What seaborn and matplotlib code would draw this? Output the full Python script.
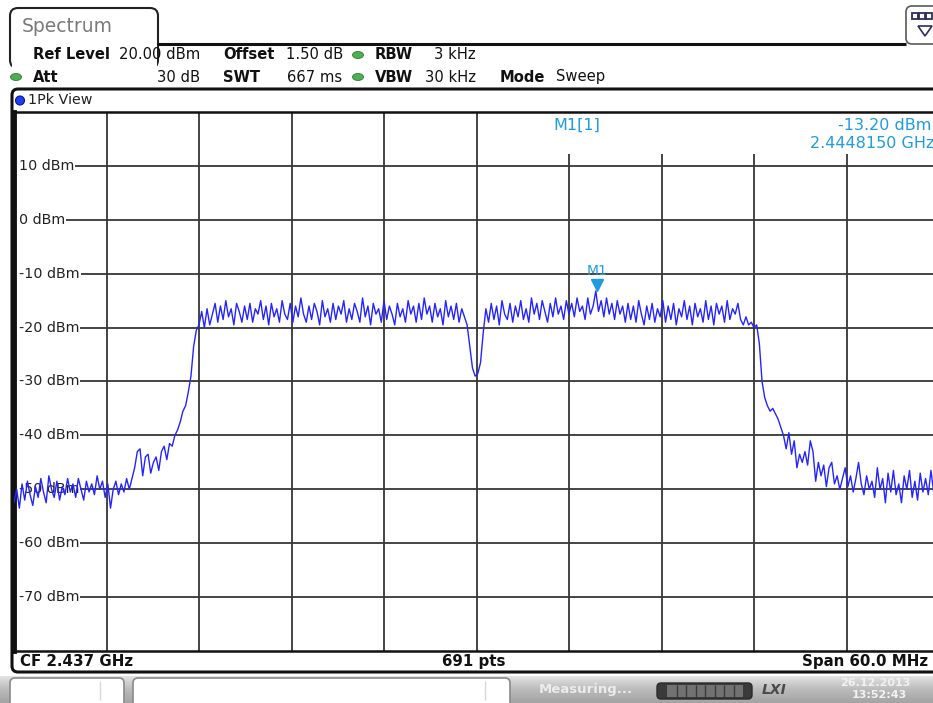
import numpy as np
import matplotlib
matplotlib.use("Agg")
import matplotlib.pyplot as plt
import matplotlib.transforms as mtransforms
import seaborn as sns
from matplotlib.patches import FancyBboxPatch, Rectangle, Ellipse, Circle, Polygon

# analyzer settings shown on screen
center_ghz = 2.437
span_mhz = 60.0
ref_level = 20.0
bottom_level = -80.0
sweep_pts = 691

# trace (dBm), every 2nd sweep point (346 samples over the span)
floor_left = [-52.5, -50.0, -53.5, -49.0, -52.0, -48.5, -51.0, -53.0, -49.5, -51.5,
              -48.0, -50.5, -52.5, -47.5, -50.0, -51.5, -48.5, -52.0, -49.5, -51.0,
              -48.0, -50.5, -49.0, -51.5, -48.0, -50.0, -52.0, -48.5, -50.5, -49.0,
              -51.0, -47.5, -50.0, -48.5, -51.5, -49.0, -53.5, -50.0, -48.5, -51.0,
              -49.0, -50.5, -48.0, -50.0]
skirt_left = [-48.0, -46.0, -43.0, -42.5, -47.5, -44.0, -43.5, -47.0, -45.0, -44.0,
              -46.5, -43.0, -42.0, -44.5, -41.5, -42.0, -40.0, -39.0, -37.5, -35.5,
              -34.5, -32.0, -29.0, -23.5, -20.5]
band_left = [-19.5, -17.0, -20.0, -16.5, -19.5, -17.5, -15.5, -19.0, -16.0, -18.5,
             -15.0, -18.0, -16.5, -19.5, -15.5, -17.0, -19.0, -16.0, -18.5, -15.5,
             -19.0, -16.5, -17.5, -15.0, -18.5, -16.0, -19.5, -15.5, -18.0, -16.5,
             -19.0, -15.0, -17.5, -18.5, -15.5, -19.0, -16.0, -18.0, -14.5, -17.5,
             -19.0, -16.0, -18.5, -15.5, -17.0, -19.5, -15.0, -18.0, -16.5, -19.0,
             -15.5, -18.5, -16.0, -17.5, -15.0, -19.0, -16.5, -18.5, -15.5, -17.0,
             -19.0, -14.5, -18.0, -16.0, -19.5, -15.5, -17.5, -16.5, -19.0, -15.0,
             -18.5, -16.0, -17.5, -19.5, -15.5, -18.0, -16.5, -19.0, -15.0, -17.5,
             -16.0, -19.0, -15.5, -18.5, -14.5, -17.5, -16.0, -19.0, -15.5, -18.0,
             -16.5, -19.5, -15.0, -18.0, -16.0, -18.5, -15.5, -19.0, -16.5, -18.0]
notch = [-19.5, -23.5, -27.5, -29.0, -28.5, -26.5, -21.0]
band_right = [-16.5, -19.0, -15.5, -18.5, -16.0, -19.5, -15.0, -17.5, -18.5, -15.5,
              -19.0, -16.0, -18.0, -15.0, -18.5, -16.5, -19.0, -14.5, -17.5, -15.5,
              -18.5, -15.0, -17.0, -19.0, -15.5, -18.0, -14.5, -17.5, -16.0, -18.5,
              -15.0, -17.5, -15.5, -18.0, -14.5, -17.0, -16.0, -18.5, -14.5, -17.5,
              -16.0, -13.2, -17.0, -15.0, -18.0, -14.5, -17.5, -15.5, -18.5, -15.0,
              -17.5, -16.0, -19.0, -15.5, -18.5, -16.0, -19.0, -15.0, -17.5, -19.5,
              -16.0, -18.5, -15.5, -19.0, -16.5, -18.0, -15.0, -19.0, -16.0, -18.5,
              -15.5, -19.5, -16.5, -18.0, -15.0, -18.5, -16.0, -19.5, -15.5, -18.0,
              -16.5, -19.0, -15.0, -18.5, -16.0, -19.5, -15.5, -17.5, -16.0, -19.0,
              -15.0, -18.5, -16.5, -17.5, -15.5, -18.5, -19.5, -18.0, -19.5]
skirt_right = [-19.0, -20.0, -19.5, -23.0, -30.0, -33.0, -34.5, -35.5, -35.0, -36.0,
               -37.0, -38.5, -40.0, -42.5, -39.5, -43.5, -41.0, -46.0, -43.5, -45.0,
               -43.0, -45.5, -41.0, -43.0, -48.5, -45.0, -47.5, -45.5, -49.5, -46.0,
               -45.0, -49.0, -47.5, -50.0, -48.0, -46.0, -49.5, -47.5, -50.5, -48.0,
               -45.0, -49.0, -51.0, -47.5, -50.0, -48.5, -51.5, -46.0, -50.0, -48.0,
               -52.5, -47.0, -50.5, -46.5, -51.0, -49.0, -52.5, -47.5, -50.0, -46.5,
               -51.5, -48.5, -52.0, -47.0, -50.5, -48.0, -51.0, -46.5, -50.5, -48.5,
               -50.0]

marker_freq = 2.4448150
marker_level = -13.20
level_ticks = [10, 0, -10, -20, -30, -40, -50, -60, -70]

trace = np.array(floor_left + skirt_left + band_left + notch + band_right + skirt_right)
f_start = center_ghz - span_mhz / 2000
f_stop = center_ghz + span_mhz / 2000
freq = np.linspace(f_start, f_stop, len(trace))

sns.set_theme(style="white")
plt.rcParams["font.family"] = ["DejaVu Sans"]

W, H = 933, 703
BLUE = "#2424ff"
CYAN = "#1f9be0"
GRID = "#363636"

fig = plt.figure(figsize=(W / 100, H / 100), dpi=100)
fig.patch.set_facecolor("white")
ax = fig.add_axes([14 / W, (H - 651) / H, 925 / W, (651 - 112) / H])
ov = fig.add_axes([0, 0, 1, 1], zorder=5)

# --- main trace window ---
ax.set_facecolor("white")
ax.set_xlim(f_start, f_stop)
ax.set_ylim(bottom_level, ref_level)
ax.set_xticks([])
ax.set_yticks([])
for s in ["top", "bottom"]:
    ax.spines[s].set_linewidth(1.8)
    ax.spines[s].set_color("#111111")
ax.spines["left"].set_linewidth(3.5)
ax.spines["left"].set_color("#111111")
ax.spines["right"].set_visible(False)

div = (f_stop - f_start) / 10
for k in range(1, 10):
    top = ref_level if k <= 5 else 12.2
    ax.vlines(f_start + k * div, bottom_level, top, color=GRID, lw=1.3, zorder=1)

lbl_tr = mtransforms.blended_transform_factory(ax.transAxes, ax.transData)
fig.canvas.draw()
rend = fig.canvas.get_renderer()
for lv in level_ticks:
    t = ax.text(5 / 925, lv, f"{lv} dBm", transform=lbl_tr, ha="left", va="center",
                fontsize=10.3, color="#222222", zorder=2)
    bb = t.get_window_extent(rend)
    x0 = ax.transData.inverted().transform((bb.x1 + 1, 0))[0]
    ax.hlines(lv, x0, f_stop, color=GRID, lw=1.3, zorder=1)

sns.lineplot(x=freq, y=trace, ax=ax, color=BLUE, linewidth=1.0,
             estimator=None, sort=False, zorder=3)

tri_tr = mtransforms.offset_copy(ax.transData, fig=fig, x=0, y=6, units="dots")
ax.plot([marker_freq], [marker_level], marker="v", ms=8, color=CYAN,
        transform=tri_tr, zorder=4, clip_on=False)
ax.annotate("M1", (marker_freq, marker_level), xytext=(0, 20), textcoords="offset pixels",
            ha="center", va="center", color=CYAN, fontsize=10, zorder=4)

# --- screen furniture, in pixel coordinates ---
ov.axis("off")
grad = np.interp(np.arange(30), [0, 14, 29], [0.90, 0.74, 0.64]).reshape(-1, 1)
ov.imshow(grad, extent=(0, W, 703, 675), origin="upper", aspect="auto",
          cmap="gray", vmin=0, vmax=1, zorder=0)
ov.set_xlim(0, W)
ov.set_ylim(H, 0)

# tab
ov.add_patch(FancyBboxPatch((10, 8), 148, 60, boxstyle="round,pad=0,rounding_size=8",
                            fc="white", ec="#222222", lw=1.5, zorder=1))
ov.add_patch(Rectangle((11.5, 45), 145, 30, fc="white", ec="none", zorder=1.5))
ov.hlines(44, 157, 906, color="#111111", lw=2.2, zorder=2)
ov.text(22, 26, "Spectrum", fontsize=13.5, color="#7a7a7a", ha="left", va="center", zorder=3)

# icon top right
ov.add_patch(FancyBboxPatch((906, 6), 40, 38, boxstyle="round,pad=0,rounding_size=6",
                            fc="white", ec="#5a5a5a", lw=1.2, zorder=1))
for xs in [912, 919, 926]:
    ov.add_patch(Rectangle((xs, 13), 6, 6, fc="white", ec="#2d2d5a", lw=1.3, zorder=2))
ov.add_patch(Polygon([(918, 26), (932, 26), (925, 36)], closed=True, fc="none",
                     ec="#2d2d5a", lw=1.2, zorder=2))

# header settings
GREEN = "#4caf50"
hdr = dict(fontsize=10.6, color="#111111", va="center", zorder=3)
ov.text(33, 54.5, "Ref Level", fontweight="bold", **hdr)
ov.text(119, 54.5, "20.00 dBm", **hdr)
ov.text(223, 54.5, "Offset", fontweight="bold", **hdr)
ov.text(286, 54.5, "1.50 dB", **hdr)
ov.text(375, 54.5, "RBW", fontweight="bold", **hdr)
ov.text(476, 54.5, "3 kHz", ha="right", **hdr)
ov.text(33, 77, "Att", fontweight="bold", **hdr)
ov.text(200, 77, "30 dB", ha="right", **hdr)
ov.text(223, 77, "SWT", fontweight="bold", **hdr)
ov.text(287, 77, "667 ms", **hdr)
ov.text(375, 77, "VBW", fontweight="bold", **hdr)
ov.text(476, 77, "30 kHz", ha="right", **hdr)
ov.text(500, 77, "Mode", fontweight="bold", **hdr)
ov.text(556, 77, "Sweep", **hdr)
for cx, cy in [(358, 55), (358, 77), (16, 77)]:
    ov.add_patch(Ellipse((cx, cy), 11, 7, fc=GREEN, ec="#2e7d32", lw=0.6, zorder=3))

# trace window frame
ov.add_patch(FancyBboxPatch((12, 89), 960, 583, boxstyle="round,pad=0,rounding_size=6",
                            fc="none", ec="#111111", lw=2.2, zorder=2))
ov.add_patch(Circle((20, 100.5), 4.5, fc="#1f3cff", ec="#0b1a7a", lw=0.8, zorder=3))
ov.text(28, 100.5, "1Pk View", fontsize=10.3, color="#222222", va="center", zorder=3)

# marker readout
mk = dict(fontsize=11.5, color=CYAN, va="center", zorder=3)
ov.text(553, 125, "M1[1]", **mk)
ov.text(838, 125, f"{marker_level:.2f} dBm", **mk)
ov.text(810, 144, f"{marker_freq:.7f} GHz", **mk)

# bottom bar
bot = dict(fontsize=10.8, fontweight="bold", color="#111111", va="center", zorder=3)
ov.text(20, 661.5, f"CF {center_ghz:.3f} GHz", **bot)
ov.text(474, 661.5, f"{sweep_pts} pts", ha="center", **bot)
ov.text(928, 661.5, f"Span {span_mhz:.1f} MHz", ha="right", **bot)

# status bar
ov.add_patch(Rectangle((0, 672), W, 4, fc="white", ec="none", zorder=0.5))
ov.add_patch(FancyBboxPatch((10, 678), 114, 40, boxstyle="round,pad=0,rounding_size=5",
                            fc="white", ec="#8a8a8a", lw=1.2, zorder=1))
ov.add_patch(FancyBboxPatch((133, 678), 377, 40, boxstyle="round,pad=0,rounding_size=5",
                            fc="white", ec="#8a8a8a", lw=1.2, zorder=1))
ov.vlines([100, 485], 681, 700, color="#d8d8d8", lw=1, zorder=2)
ov.text(539, 690, "Measuring...", fontsize=9.5, fontweight="bold", color="#ececec",
        va="center", zorder=3)
ov.add_patch(FancyBboxPatch((657, 683), 95, 16, boxstyle="round,pad=0,rounding_size=4",
                            fc="#3a3a3a", ec="#2a2a2a", lw=1, zorder=2))
ov.add_patch(Rectangle((667, 685), 76, 12, fc="#727272", ec="none", zorder=3))
ov.vlines(np.linspace(667, 743, 9)[1:-1], 685, 697, color="#3a3a3a", lw=1, zorder=4)
ov.text(762, 690, "LXI", fontsize=10, fontweight="bold", fontstyle="italic",
        color="#4a4a4a", va="center", zorder=3)
ov.text(840, 683, "26.12.2013", fontsize=8, fontweight="bold", color="#f2f2f2",
        va="center", zorder=3)
ov.text(852, 695, "13:52:43", fontsize=8, fontweight="bold", color="#f2f2f2",
        va="center", zorder=3)

fig.savefig("out.png", dpi=100)
